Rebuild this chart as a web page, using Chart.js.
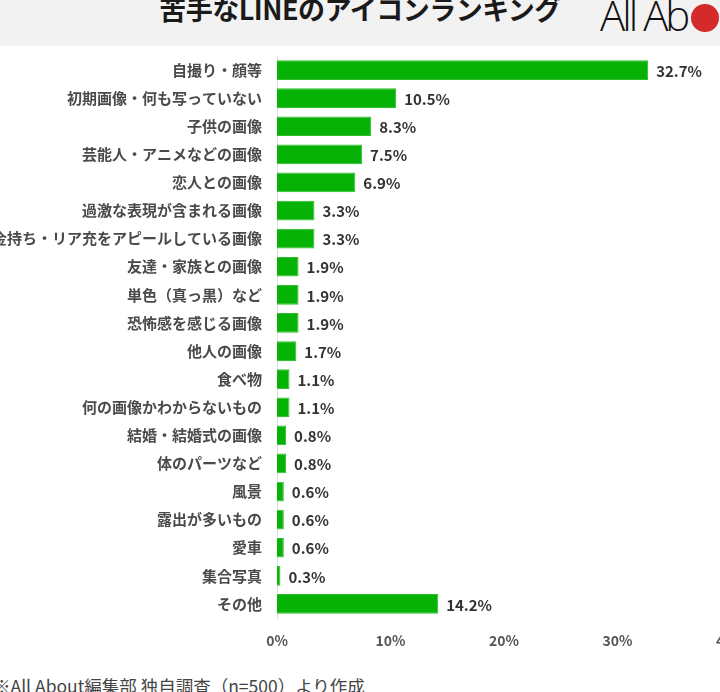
<!DOCTYPE html>
<html>
<head>
<meta charset="utf-8">
<script src="https://cdn.jsdelivr.net/npm/chart.js@4"></script>
<style>
  body { margin: 0; background: #fff; }
  #page { position: relative; width: 720px; height: 692px; overflow: hidden; background: #fff; font-family: 'Noto Sans CJK JP', 'Noto Sans', sans-serif; }
  #header { position: absolute; left: 0; top: 0; width: 720px; height: 46px; background: #f2f2f2; }
  #title { position: absolute; left: 0; width: 720px; top: -11px; text-align: center; font-size: 27px; font-weight: 700; color: #1a1a1a; letter-spacing: -0.5px; }
  #logo { position: absolute; left: 600px; top: -14px; font-family: 'Open Sans', sans-serif; font-weight: 300; font-size: 42px; color: #111; letter-spacing: -3px; white-space: nowrap; }
  #logo .dot { display: inline-block; width: 28px; height: 28px; border-radius: 50%; background: #d42a2a; vertical-align: -1px; margin-left: 4px; }
  #wrap { position: absolute; left: 0; top: 32px; width: 760px; height: 626px; }
  #footer { position: absolute; left: -7px; top: 673px; font-size: 17.5px; color: #444; white-space: nowrap; }
</style>
</head>
<body>
<div id="page">
  <div id="header">
    <div id="title">苦手なLINEのアイコンランキング</div>
    <div id="logo">All Ab<span class="dot"></span></div>
  </div>
  <div id="wrap"><canvas id="myChart"></canvas></div>
  <div id="footer">※All About編集部 独自調査（n=500）より作成</div>
</div>
<script>
const categories = [
  '自撮り・顔等',
  '初期画像・何も写っていない',
  '子供の画像',
  '芸能人・アニメなどの画像',
  '恋人との画像',
  '過激な表現が含まれる画像',
  'お金持ち・リア充をアピールしている画像',
  '友達・家族との画像',
  '単色（真っ黒）など',
  '恐怖感を感じる画像',
  '他人の画像',
  '食べ物',
  '何の画像かわからないもの',
  '結婚・結婚式の画像',
  '体のパーツなど',
  '風景',
  '露出が多いもの',
  '愛車',
  '集合写真',
  'その他'
]
const percentValues = [32.7, 10.5, 8.3, 7.5, 6.9, 3.3, 3.3, 1.9, 1.9, 1.9, 1.7, 1.1, 1.1, 0.8, 0.8, 0.6, 0.6, 0.6, 0.3, 14.2]
const xTicks = [0, 10, 20, 30, 40]

const valueLabels = {
  id: 'valueLabels',
  afterDatasetsDraw: (chart) => {
    const ctx = chart.ctx
    const meta = chart.getDatasetMeta(0)
    ctx.save()
    ctx.font = 'bold 15px "Noto Sans CJK JP", "Noto Sans", sans-serif'
    ctx.fillStyle = '#333'
    ctx.textAlign = 'left'
    ctx.textBaseline = 'middle'
    meta.data.forEach((bar, i) => {
      ctx.fillText(percentValues[i].toFixed(1) + '%', bar.x + 8, bar.y + 1)
    })
    ctx.restore()
  }
}

const graphicSetup = () => {
  const ctx = document.getElementById('myChart')
  new Chart(ctx, {
    type: 'bar',
    data: {
      labels: categories,
      datasets: [{
        data: percentValues,
        backgroundColor: '#07b207',
        borderColor: '#2cc02c',
        borderWidth: 1,
        borderSkipped: 'left',
        categoryPercentage: 1,
        barPercentage: 0.7
      }]
    },
    options: {
      indexAxis: 'y',
      responsive: true,
      maintainAspectRatio: false,
      animation: false,
      layout: { padding: { top: 10, right: 27, left: 0, bottom: 0 } },
      scales: {
        x: {
          min: 0,
          max: 40,
          afterFit: (axis) => { axis.height = 40 },
          afterBuildTicks: (axis) => { axis.ticks = xTicks.map(v => ({ value: v })) },
          grid: { display: false, drawTicks: false },
          border: { display: false },
          ticks: {
            padding: 14,
            color: '#555',
            font: { family: '"Noto Sans CJK JP", "Noto Sans", sans-serif', size: 14, weight: 'bold' },
            callback: (v) => v + '%'
          }
        },
        y: {
          afterFit: (axis) => { axis.width = 277 },
          grid: { display: false, drawTicks: false },
          border: { display: true, color: '#dddddd', width: 1 },
          ticks: {
            padding: 15,
            color: '#4a4a4a',
            autoSkip: false,
            font: { family: '"Noto Sans CJK JP", "Noto Sans", sans-serif', size: 15, weight: 'bold' }
          }
        }
      },
      plugins: {
        legend: { display: false },
        tooltip: { enabled: false }
      }
    },
    plugins: [valueLabels]
  })
}

graphicSetup()
</script>
</body>
</html>
